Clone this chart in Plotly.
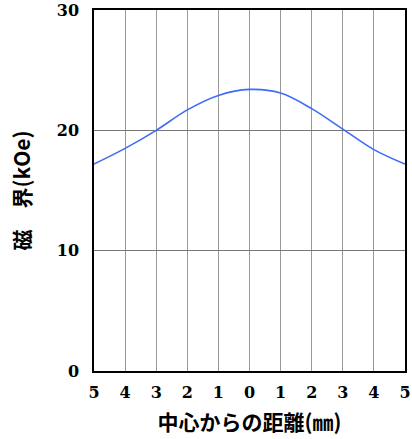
import plotly.graph_objects as go

distance = [-5, -4, -3, -2, -1, 0, 1, 2, 3, 4, 5]
field = [17.2, 18.5, 20.0, 21.7, 22.9, 23.4, 23.1, 21.8, 20.1, 18.4, 17.2]
tick_vals = [-5, -4, -3, -2, -1, 0, 1, 2, 3, 4, 5]
tick_text = ["5", "4", "3", "2", "1", "0", "1", "2", "3", "4", "5"]
y_ticks = [0, 10, 20, 30]

fig = go.Figure()
fig.add_trace(go.Scatter(x=distance, y=field, mode="lines",
                         line=dict(color="#3d6cf5", width=1.6, shape="spline", smoothing=1.0),
                         showlegend=False, hoverinfo="skip"))

tick_font = dict(family="'DejaVu Serif', 'Liberation Serif', serif", size=16, color="black", weight="bold")
title_font = dict(family="Noto Sans CJK JP", size=21, color="black", weight="bold")
fig.update_layout(
    width=412, height=439,
    margin=dict(l=94, r=7, t=10, b=68),
    paper_bgcolor="white", plot_bgcolor="white",
    xaxis=dict(range=[-5.0005, 5.0005], tickvals=tick_vals, ticktext=tick_text,
               automargin=False,
               showgrid=True, gridcolor="#999999", gridwidth=1,
               showline=True, linecolor="black", linewidth=1.5, mirror=True,
               ticks="", tickfont=tick_font, zeroline=False, ticklabelstandoff=6,
               title=dict(text="中心からの距離(㎜)", standoff=14, font=title_font)),
    yaxis=dict(range=[0, 30], tickvals=y_ticks, automargin=False,
               showgrid=True, gridcolor="#777777", gridwidth=1,
               showline=True, linecolor="black", linewidth=1.5, mirror=True,
               ticks="", tickfont=tick_font, zeroline=False, ticklabelstandoff=10,
               title=dict(text="磁　界(kOe)", standoff=20, font=title_font)),
)
fig.write_html("out.html", config={"displayModeBar": False},
               post_script="document.body.style.margin='0';")
